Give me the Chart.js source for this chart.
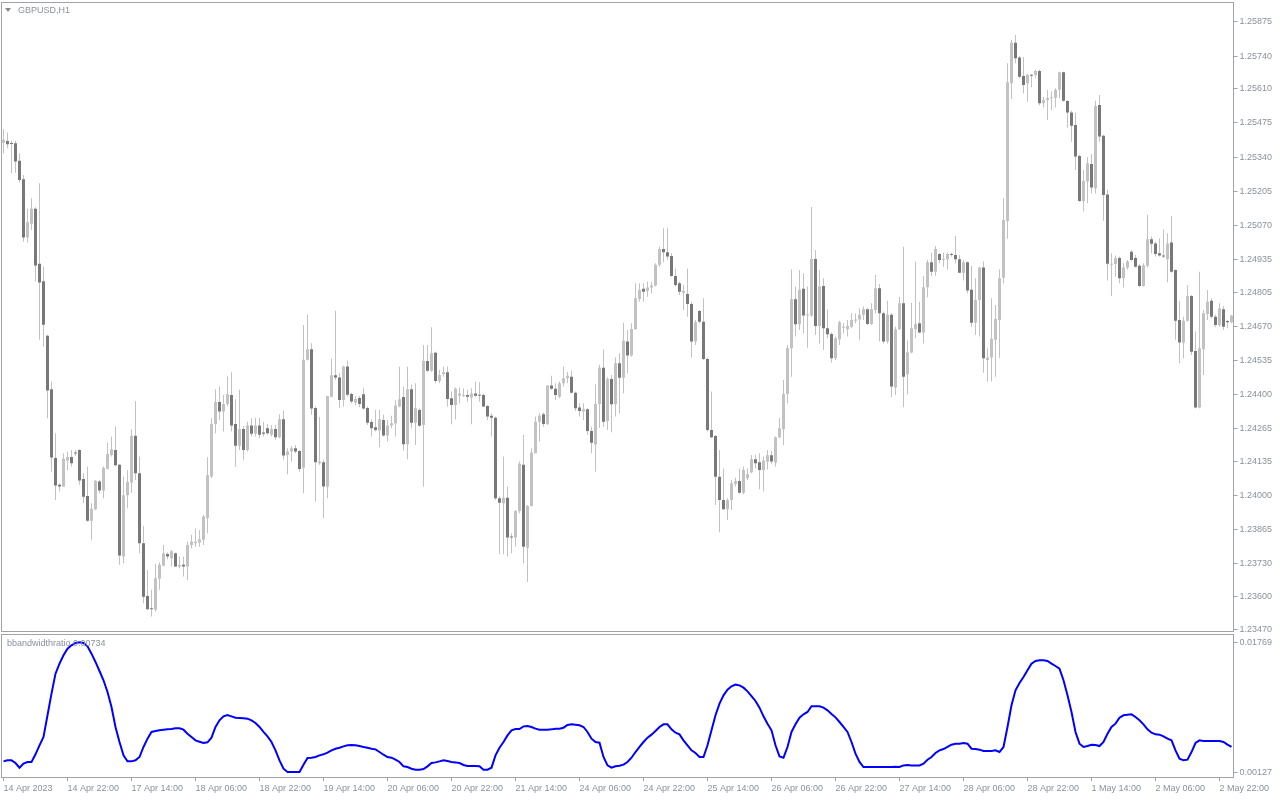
<!DOCTYPE html>
<html>
<head>
<meta charset="utf-8">
<title>GBPUSD,H1</title>
<script src="https://cdn.jsdelivr.net/npm/chart.js@4.4.1/dist/chart.umd.min.js"></script>
<style>
  html, body { margin:0; padding:0; background:#fff; }
  #wrap { position:relative; width:1280px; height:800px; overflow:hidden; font-family:'Liberation Sans', Arial, sans-serif; }
  canvas { position:absolute; left:0; }
  #priceChart { top:0; }
  #bwChart { top:633px; }
  .lbl { position:absolute; font-size:9px; line-height:11px; color:#8a909c; white-space:nowrap; }
  .tri { position:absolute; left:5px; top:8px; width:0; height:0; border-left:3px solid transparent; border-right:3px solid transparent; border-top:4px solid #8a8a8a; }
</style>
</head>
<body>
<div id="wrap">
  <canvas id="priceChart" width="1280" height="634"></canvas>
  <canvas id="bwChart" width="1280" height="167"></canvas>
  <div class="tri"></div>
  <div class="lbl" style="left:18px;top:5px">GBPUSD,H1</div>
  <div class="lbl" style="left:7px;top:638px">bbandwidthratio 0.00734</div>
</div>
<script>
// GBPUSD H1 candles + bandwidth ratio sub-window

const openP = [
  1.25397,1.25404,1.25395,1.25395,1.25325,1.25252,1.25021,1.25076,1.25135,1.24917,
  1.24848,1.24632,1.24420,1.24148,1.24042,1.24035,1.24138,1.24152,1.24170,1.24180,
  1.24065,1.23998,1.23900,1.23945,1.24055,1.24019,1.24106,1.24160,1.24180,1.24121,
  1.23758,1.24001,1.24051,1.24236,1.24088,1.23811,1.23602,1.23552,1.23547,1.23670,
  1.23722,1.23768,1.23751,1.23771,1.23718,1.23725,1.23718,1.23804,1.23811,1.23813,
  1.23824,1.23910,1.24075,1.24283,1.24370,1.24332,1.24362,1.24398,1.24283,1.24197,
  1.24263,1.24180,1.24277,1.24244,1.24277,1.24249,1.24266,1.24240,1.24263,1.24230,
  1.24302,1.24160,1.24174,1.24187,1.24176,1.24110,1.24537,1.24579,1.24346,1.24127,
  1.24131,1.24035,1.24391,1.24476,1.24467,1.24378,1.24510,1.24402,1.24368,1.24386,
  1.24401,1.24346,1.24291,1.24270,1.24257,1.24299,1.24237,1.24277,1.24285,1.24352,
  1.24390,1.24203,1.24420,1.24288,1.24338,1.24279,1.24532,1.24494,1.24565,1.24453,
  1.24480,1.24488,1.24385,1.24358,1.24395,1.24394,1.24398,1.24388,1.24404,1.24398,
  1.24398,1.24354,1.24315,1.24308,1.23989,1.23969,1.23991,1.23837,1.23833,1.23938,
  1.24121,1.23793,1.23958,1.24167,1.24292,1.24321,1.24283,1.24435,1.24422,1.24391,
  1.24444,1.24464,1.24470,1.24407,1.24348,1.24332,1.24341,1.24255,1.24202,1.24362,
  1.24506,1.24295,1.24461,1.24361,1.24523,1.24466,1.24609,1.24554,1.24659,1.24778,
  1.24818,1.24810,1.24823,1.24831,1.24913,1.24976,1.24963,1.24948,1.24869,1.24840,
  1.24803,1.24798,1.24758,1.24609,1.24730,1.24688,1.24540,1.24259,1.24235,1.24074,
  1.23982,1.23945,1.23982,1.24045,1.24057,1.24011,1.24068,1.24092,1.24143,1.24131,
  1.24101,1.24133,1.24159,1.24130,1.24230,1.24262,1.24402,1.24583,1.24777,1.24678,
  1.24818,1.24712,1.24712,1.24936,1.24671,1.24829,1.24662,1.24639,1.24543,1.24618,
  1.24664,1.24658,1.24668,1.24692,1.24697,1.24715,1.24737,1.24679,1.24734,1.24820,
  1.24721,1.24609,1.24715,1.24427,1.24658,1.24761,1.24480,1.24566,1.24658,1.24682,
  1.24645,1.24824,1.24923,1.24886,1.24956,1.24932,1.24935,1.24955,1.24952,1.24935,
  1.24882,1.24923,1.24814,1.24684,1.24774,1.24903,1.24536,1.24546,1.24616,1.24695,
  1.24862,1.25087,1.25632,1.25793,1.25734,1.25661,1.25632,1.25665,1.25665,1.25681,
  1.25553,1.25566,1.25573,1.25575,1.25606,1.25676,1.25562,1.25516,1.25467,1.25344,
  1.25166,1.25243,1.25312,1.25216,1.25546,1.25424,1.25192,1.24913,1.24916,1.24940,
  1.24860,1.24903,1.24965,1.24940,1.24909,1.24829,1.24909,1.25014,1.24998,1.24959,
  1.24950,1.24935,1.25002,1.24893,1.24695,1.24606,1.24692,1.24790,1.24572,1.24348,
  1.24579,1.24718,1.24771,1.24708,1.24675,1.24737,1.24691,1.24686
];
const highP = [
  1.25450,1.25437,1.25405,1.25405,1.25355,1.25269,1.25135,1.25177,1.25141,1.25236,
  1.24906,1.24636,1.24451,1.24246,1.24048,1.24167,1.24174,1.24180,1.24180,1.24183,
  1.24088,1.24114,1.23969,1.24061,1.24061,1.24114,1.24209,1.24233,1.24273,1.24123,
  1.24075,1.24101,1.24262,1.24374,1.24154,1.23879,1.23705,1.23626,1.23729,1.23734,
  1.23804,1.23774,1.23784,1.23774,1.23758,1.23758,1.23817,1.23844,1.23870,1.23863,
  1.23923,1.24151,1.24306,1.24420,1.24431,1.24398,1.24471,1.24488,1.24381,1.24418,
  1.24275,1.24292,1.24306,1.24308,1.24308,1.24292,1.24283,1.24279,1.24279,1.24321,
  1.24335,1.24187,1.24196,1.24200,1.24180,1.24675,1.24715,1.24603,1.24352,1.24310,
  1.24141,1.24395,1.24541,1.24731,1.24484,1.24513,1.24534,1.24407,1.24394,1.24394,
  1.24424,1.24352,1.24302,1.24339,1.24339,1.24319,1.24299,1.24315,1.24378,1.24510,
  1.24431,1.24510,1.24438,1.24444,1.24345,1.24596,1.24596,1.24666,1.24569,1.24497,
  1.24510,1.24510,1.24411,1.24427,1.24427,1.24424,1.24418,1.24424,1.24451,1.24448,
  1.24404,1.24358,1.24325,1.24312,1.23996,1.24154,1.24035,1.23850,1.23942,1.24134,
  1.24239,1.23962,1.24187,1.24312,1.24325,1.24328,1.24437,1.24474,1.24444,1.24451,
  1.24510,1.24490,1.24494,1.24411,1.24365,1.24365,1.24345,1.24272,1.24440,1.24517,
  1.24579,1.24468,1.24477,1.24546,1.24563,1.24684,1.24655,1.24682,1.24840,1.24840,
  1.24840,1.24847,1.24847,1.24919,1.24985,1.25058,1.25058,1.24959,1.24899,1.24847,
  1.24834,1.24899,1.24767,1.24695,1.24734,1.24781,1.24546,1.24411,1.24239,1.24180,
  1.24107,1.23989,1.24061,1.24070,1.24107,1.24114,1.24107,1.24160,1.24160,1.24167,
  1.24154,1.24180,1.24176,1.24233,1.24308,1.24457,1.24596,1.24895,1.24827,1.24893,
  1.24880,1.24827,1.25142,1.24972,1.24893,1.24860,1.24737,1.24645,1.24629,1.24692,
  1.24682,1.24695,1.24721,1.24721,1.24741,1.24748,1.24741,1.24761,1.24873,1.24837,
  1.24728,1.24771,1.24721,1.24668,1.24787,1.24985,1.24613,1.24763,1.24926,1.24767,
  1.24869,1.24932,1.24961,1.24988,1.24961,1.24961,1.24961,1.24961,1.25027,1.24952,
  1.24932,1.24926,1.24909,1.24860,1.24906,1.24926,1.24583,1.24781,1.24754,1.24895,
  1.25177,1.25711,1.25804,1.25823,1.25740,1.25736,1.25669,1.25669,1.25685,1.25687,
  1.25579,1.25606,1.25600,1.25612,1.25678,1.25678,1.25566,1.25524,1.25516,1.25349,
  1.25289,1.25339,1.25352,1.25563,1.25586,1.25428,1.25210,1.24959,1.24950,1.24946,
  1.24919,1.24932,1.24971,1.24952,1.24915,1.24919,1.25111,1.25025,1.25005,1.25018,
  1.25054,1.25038,1.25107,1.24895,1.24771,1.24708,1.24833,1.24794,1.24649,1.24886,
  1.24734,1.24814,1.24781,1.24715,1.24761,1.24750,1.24695,1.24715
];
const lowP = [
  1.25355,1.25375,1.25276,1.25278,1.25239,1.25005,1.25001,1.25051,1.24847,1.24616,
  1.24589,1.24306,1.24094,1.23982,1.24015,1.24033,1.24101,1.24114,1.24156,1.24042,
  1.23969,1.23896,1.23824,1.23941,1.24009,1.23989,1.24103,1.24154,1.24114,1.23725,
  1.23731,1.23949,1.24011,1.24061,1.23771,1.23573,1.23547,1.23520,1.23540,1.23626,
  1.23718,1.23747,1.23718,1.23716,1.23712,1.23679,1.23665,1.23791,1.23797,1.23797,
  1.23804,1.23850,1.24068,1.24246,1.24299,1.24253,1.24354,1.24253,1.24112,1.24180,
  1.24141,1.24174,1.24233,1.24233,1.24226,1.24233,1.24240,1.24233,1.24220,1.24226,
  1.24141,1.24084,1.24134,1.24167,1.24094,1.24009,1.24534,1.24319,1.23976,1.24121,
  1.23910,1.23989,1.24389,1.24457,1.24346,1.24352,1.24391,1.24365,1.24358,1.24349,
  1.24339,1.24279,1.24233,1.24253,1.24191,1.24233,1.24213,1.24266,1.24233,1.24349,
  1.24178,1.24143,1.24266,1.24200,1.24272,1.24035,1.24490,1.24490,1.24444,1.24444,
  1.24470,1.24352,1.24282,1.24301,1.24365,1.24391,1.24371,1.24282,1.24391,1.24371,
  1.24349,1.24299,1.24233,1.23982,1.23767,1.23767,1.23758,1.23771,1.23797,1.23929,
  1.23731,1.23656,1.23956,1.24167,1.24213,1.24272,1.24279,1.24418,1.24378,1.24385,
  1.24431,1.24444,1.24404,1.24334,1.24312,1.24299,1.24239,1.24167,1.24094,1.24268,
  1.24272,1.24259,1.24250,1.24312,1.24325,1.24404,1.24484,1.24550,1.24655,1.24767,
  1.24767,1.24787,1.24800,1.24827,1.24906,1.24923,1.24932,1.24866,1.24827,1.24794,
  1.24734,1.24708,1.24546,1.24596,1.24682,1.24536,1.24253,1.24226,1.23962,1.23854,
  1.23942,1.23903,1.23942,1.24035,1.24008,1.24005,1.24061,1.24088,1.24107,1.24024,
  1.24015,1.24103,1.24125,1.24114,1.24226,1.24200,1.24365,1.24470,1.24629,1.24655,
  1.24642,1.24585,1.24708,1.24635,1.24602,1.24576,1.24622,1.24526,1.24536,1.24596,
  1.24642,1.24629,1.24662,1.24682,1.24616,1.24695,1.24675,1.24675,1.24721,1.24609,
  1.24602,1.24602,1.24389,1.24398,1.24655,1.24349,1.24400,1.24563,1.24622,1.24642,
  1.24602,1.24785,1.24869,1.24870,1.24919,1.24906,1.24895,1.24946,1.24919,1.24880,
  1.24851,1.24800,1.24668,1.24635,1.24629,1.24486,1.24451,1.24451,1.24470,1.24543,
  1.24840,1.25016,1.25570,1.25711,1.25652,1.25592,1.25559,1.25616,1.25654,1.25544,
  1.25536,1.25487,1.25526,1.25536,1.25573,1.25559,1.25456,1.25401,1.25289,1.25163,
  1.25124,1.25157,1.25196,1.25196,1.25401,1.25088,1.24851,1.24790,1.24866,1.24840,
  1.24823,1.24895,1.24930,1.24903,1.24824,1.24826,1.24903,1.24959,1.24946,1.24946,
  1.24940,1.24844,1.24882,1.24616,1.24523,1.24543,1.24688,1.24556,1.24345,1.24345,
  1.24477,1.24695,1.24701,1.24668,1.24668,1.24655,1.24662,1.24682
];
const closeP = [
  1.25408,1.25391,1.25392,1.25322,1.25249,1.25021,1.25082,1.25135,1.24910,1.24843,
  1.24676,1.24415,1.24150,1.24039,1.24035,1.24145,1.24152,1.24127,1.24166,1.24059,
  1.23995,1.23900,1.23947,1.24057,1.24019,1.24109,1.24164,1.24183,1.24119,1.23762,
  1.24001,1.24053,1.24236,1.24088,1.23811,1.23599,1.23549,1.23549,1.23672,1.23725,
  1.23771,1.23758,1.23779,1.23718,1.23725,1.23718,1.23804,1.23817,1.23816,1.23826,
  1.23916,1.24080,1.24283,1.24370,1.24332,1.24362,1.24401,1.24277,1.24197,1.24263,
  1.24180,1.24277,1.24244,1.24277,1.24240,1.24244,1.24246,1.24263,1.24230,1.24302,
  1.24158,1.24174,1.24187,1.24174,1.24105,1.24537,1.24579,1.24344,1.24131,1.24134,
  1.24035,1.24394,1.24476,1.24467,1.24378,1.24510,1.24399,1.24372,1.24382,1.24362,
  1.24344,1.24288,1.24266,1.24259,1.24302,1.24237,1.24277,1.24286,1.24356,1.24381,
  1.24203,1.24420,1.24288,1.24345,1.24276,1.24532,1.24494,1.24563,1.24453,1.24477,
  1.24488,1.24382,1.24358,1.24422,1.24404,1.24398,1.24391,1.24404,1.24395,1.24395,
  1.24352,1.24312,1.24308,1.23989,1.23971,1.23991,1.23833,1.23833,1.23938,1.24125,
  1.23797,1.23958,1.24169,1.24292,1.24315,1.24283,1.24435,1.24422,1.24398,1.24444,
  1.24464,1.24474,1.24407,1.24345,1.24334,1.24341,1.24255,1.24209,1.24362,1.24506,
  1.24292,1.24461,1.24361,1.24523,1.24466,1.24612,1.24554,1.24659,1.24781,1.24814,
  1.24807,1.24823,1.24831,1.24913,1.24976,1.24963,1.24946,1.24869,1.24833,1.24807,
  1.24810,1.24758,1.24609,1.24686,1.24688,1.24540,1.24259,1.24230,1.24074,1.23982,
  1.23945,1.23982,1.24048,1.24057,1.24011,1.24101,1.24084,1.24143,1.24127,1.24101,
  1.24138,1.24159,1.24134,1.24230,1.24266,1.24402,1.24583,1.24777,1.24678,1.24814,
  1.24712,1.24714,1.24936,1.24671,1.24827,1.24662,1.24638,1.24543,1.24622,1.24686,
  1.24668,1.24671,1.24695,1.24697,1.24715,1.24737,1.24679,1.24737,1.24820,1.24721,
  1.24609,1.24715,1.24431,1.24658,1.24761,1.24470,1.24567,1.24662,1.24679,1.24645,
  1.24824,1.24923,1.24886,1.24976,1.24932,1.24935,1.24956,1.24952,1.24935,1.24882,
  1.24923,1.24811,1.24684,1.24774,1.24903,1.24543,1.24546,1.24620,1.24699,1.24860,
  1.25091,1.25636,1.25793,1.25731,1.25658,1.25625,1.25665,1.25662,1.25681,1.25553,
  1.25566,1.25573,1.25576,1.25606,1.25676,1.25563,1.25516,1.25464,1.25342,1.25166,
  1.25245,1.25315,1.25219,1.25542,1.25421,1.25190,1.24917,1.24917,1.24939,1.24860,
  1.24903,1.24926,1.24932,1.24906,1.24829,1.24911,1.25014,1.24997,1.24956,1.24950,
  1.24946,1.24998,1.24886,1.24692,1.24606,1.24692,1.24790,1.24569,1.24348,1.24583,
  1.24721,1.24767,1.24708,1.24675,1.24741,1.24668,1.24686,1.24711
];

// bbandwidthratio, one value per bar
const bandwidth = [
  0.00262,0.00275,0.00275,0.00241,0.00182,0.00233,0.00254,0.00254,0.00351,0.00465,
  0.00570,0.00845,0.01119,0.01372,0.01499,0.01604,0.01689,0.01731,0.01761,0.01769,
  0.01761,0.01718,0.01625,0.01520,0.01406,0.01288,0.01140,0.00950,0.00697,0.00507,
  0.00338,0.00262,0.00262,0.00275,0.00317,0.00444,0.00549,0.00634,0.00646,0.00655,
  0.00663,0.00667,0.00672,0.00680,0.00680,0.00663,0.00612,0.00570,0.00528,0.00511,
  0.00494,0.00503,0.00562,0.00697,0.00781,0.00832,0.00849,0.00832,0.00815,0.00811,
  0.00807,0.00802,0.00781,0.00747,0.00697,0.00634,0.00579,0.00507,0.00401,0.00275,
  0.00169,0.00127,0.00127,0.00127,0.00127,0.00220,0.00304,0.00308,0.00317,0.00338,
  0.00351,0.00372,0.00401,0.00422,0.00435,0.00452,0.00465,0.00469,0.00465,0.00456,
  0.00444,0.00435,0.00422,0.00414,0.00380,0.00346,0.00317,0.00308,0.00283,0.00254,
  0.00199,0.00190,0.00169,0.00157,0.00157,0.00165,0.00199,0.00241,0.00249,0.00262,
  0.00275,0.00266,0.00254,0.00249,0.00241,0.00216,0.00203,0.00203,0.00203,0.00199,
  0.00157,0.00157,0.00182,0.00338,0.00435,0.00507,0.00591,0.00655,0.00672,0.00672,
  0.00705,0.00710,0.00697,0.00676,0.00663,0.00663,0.00663,0.00667,0.00676,0.00676,
  0.00688,0.00722,0.00731,0.00726,0.00718,0.00697,0.00634,0.00549,0.00507,0.00498,
  0.00317,0.00211,0.00182,0.00199,0.00207,0.00220,0.00254,0.00308,0.00380,0.00444,
  0.00507,0.00562,0.00600,0.00646,0.00697,0.00731,0.00731,0.00667,0.00625,0.00604,
  0.00528,0.00465,0.00401,0.00368,0.00317,0.00317,0.00465,0.00655,0.00845,0.00992,
  0.01098,0.01170,0.01212,0.01233,0.01224,0.01195,0.01148,0.01089,0.01026,0.00942,
  0.00832,0.00739,0.00655,0.00465,0.00325,0.00308,0.00444,0.00634,0.00731,0.00815,
  0.00857,0.00887,0.00959,0.00959,0.00959,0.00942,0.00908,0.00861,0.00819,0.00760,
  0.00697,0.00634,0.00507,0.00359,0.00254,0.00190,0.00190,0.00190,0.00190,0.00190,
  0.00190,0.00190,0.00190,0.00195,0.00190,0.00211,0.00216,0.00211,0.00211,0.00211,
  0.00233,0.00283,0.00317,0.00368,0.00401,0.00418,0.00444,0.00473,0.00486,0.00486,
  0.00494,0.00486,0.00422,0.00418,0.00410,0.00393,0.00393,0.00393,0.00401,0.00380,
  0.00444,0.00697,0.00971,0.01161,0.01254,0.01330,0.01414,0.01499,0.01533,0.01541,
  0.01541,0.01533,0.01499,0.01469,0.01436,0.01288,0.01098,0.00887,0.00634,0.00486,
  0.00444,0.00456,0.00473,0.00469,0.00456,0.00507,0.00612,0.00697,0.00739,0.00815,
  0.00845,0.00853,0.00857,0.00823,0.00781,0.00731,0.00667,0.00625,0.00604,0.00600,
  0.00579,0.00549,0.00528,0.00401,0.00296,0.00275,0.00283,0.00380,0.00494,0.00528,
  0.00520,0.00520,0.00520,0.00520,0.00520,0.00507,0.00473,0.00444
];

const priceTicks = [1.25875,1.25740,1.25610,1.25475,1.25340,1.25205,1.25070,1.24935,1.24805,1.24670,
                    1.24535,1.24400,1.24265,1.24135,1.24000,1.23865,1.23730,1.23600,1.23470];
const bwTicks = [0.01769, 0.00127];
const timeTicks = ['14 Apr 2023','14 Apr 22:00','17 Apr 14:00','18 Apr 06:00','18 Apr 22:00','19 Apr 14:00',
                   '20 Apr 06:00','20 Apr 22:00','21 Apr 14:00','24 Apr 06:00','24 Apr 22:00','25 Apr 14:00',
                   '26 Apr 06:00','26 Apr 22:00','27 Apr 14:00','28 Apr 06:00','28 Apr 22:00','1 May 14:00',
                   '2 May 06:00','2 May 22:00'];
const TICK_EVERY = 16;

// hourly bar times from 14 Apr 2023 06:00, weekends skipped
const MONTHS = ['Jan','Feb','Mar','Apr','May','Jun','Jul','Aug','Sep','Oct','Nov','Dec'];
function buildBarTimes(n){
  const out = [];
  let t = Date.UTC(2023, 3, 14, 6);
  while (out.length < n){
    const d = new Date(t);
    const wd = d.getUTCDay();
    if (wd !== 0 && wd !== 6){
      out.push(d.getUTCDate() + ' ' + MONTHS[d.getUTCMonth()] + ' ' + String(d.getUTCHours()).padStart(2,'0') + ':00');
    }
    t += 3600000;
  }
  return out;
}
const barTimes = buildBarTimes(openP.length);

const TXT = '#8a909c';
const FRAME = '#a2a2aa';
const BULL = '#c2c2c2';
const BEAR = '#787878';
const AXIS_W = 46.5;

Chart.defaults.font.family = "'Liberation Sans', Arial, sans-serif";
Chart.defaults.font.size = 9;
Chart.defaults.color = TXT;

// plain frame around each plot area
const framePlugin = {
  id: 'frame',
  afterDraw(chart){
    const { ctx, chartArea: a } = chart;
    const l = Math.floor(a.left) + 0.5, r = Math.floor(a.right) + 0.5;
    const t = Math.floor(a.top) + 0.5, b = Math.floor(a.bottom) + 0.5;
    ctx.save();
    ctx.strokeStyle = FRAME;
    ctx.lineWidth = 1;
    ctx.strokeRect(l, t, r - l, b - t);
    ctx.restore();
  }
};

function rightAxis(min, max, ticks){
  return {
    position: 'right',
    min, max,
    afterBuildTicks: s => { s.ticks = ticks.map(v => ({ value: v })); },
    afterFit: s => { s.width = AXIS_W; s.paddingTop = 0; s.paddingBottom = 0; },
    ticks: { autoSkip: false, padding: 2, color: TXT, callback: v => Number(v).toFixed(5) },
    grid: { drawOnChartArea: false, drawTicks: true, tickLength: 4, color: FRAME },
    border: { display: false }
  };
}

function initPrice(){
  const ctx = document.getElementById('priceChart');
  new Chart(ctx, {
    type: 'bar',
    data: {
      labels: barTimes,
      datasets: [
        { label: 'body', data: openP.map((o,i) => [o, closeP[i]]),
          backgroundColor: closeP.map((c,i) => c >= openP[i] ? BULL : BEAR),
          barThickness: 3, minBarLength: 1, grouped: false, inflateAmount: 0, borderWidth: 0, order: 0 },
        { label: 'wick', data: lowP.map((l,i) => [l, highP[i]]),
          backgroundColor: BULL,
          barThickness: 1, grouped: false, inflateAmount: 0, borderWidth: 0, order: 1 }
      ]
    },
    options: {
      responsive: false, animation: false, devicePixelRatio: 1, events: [],
      layout: { padding: { left: 1.5, right: 0, top: 2, bottom: 3 } },
      plugins: { legend: { display: false }, tooltip: { enabled: false } },
      scales: {
        x: { display: false, offset: true },
        y: rightAxis(1.23463, 1.25954, priceTicks)
      }
    },
    plugins: [framePlugin]
  });
}

function initBandwidth(){
  const ctx = document.getElementById('bwChart');
  new Chart(ctx, {
    type: 'line',
    data: {
      labels: barTimes,
      datasets: [{ label: 'bbandwidthratio', data: bandwidth, borderColor: '#0000ff', borderWidth: 2,
                   pointRadius: 0, tension: 0, fill: false }]
    },
    options: {
      responsive: false, animation: false, devicePixelRatio: 1, events: [],
      layout: { padding: { left: 1.5, right: 0, top: 1, bottom: 0 } },
      plugins: { legend: { display: false }, tooltip: { enabled: false } },
      scales: {
        x: {
          offset: true,
          afterFit: s => { s.height = 23; s.paddingLeft = 0; s.paddingRight = 0; },
          ticks: { autoSkip: false, maxRotation: 0, minRotation: 0, align: 'start', padding: 2, color: TXT,
                   callback: (v, i) => (i % TICK_EVERY === 0 ? (timeTicks[i / TICK_EVERY] || '') : '') },
          grid: { drawOnChartArea: false, tickLength: 4,
                  color: c => (c.index % TICK_EVERY === 0 ? FRAME : 'rgba(0,0,0,0)') },
          border: { display: false }
        },
        y: rightAxis(0.00064, 0.01874, bwTicks)
      }
    },
    plugins: [framePlugin]
  });
}

document.addEventListener('DOMContentLoaded', () => {
  initPrice();
  initBandwidth();
});
</script>
</body>
</html>
